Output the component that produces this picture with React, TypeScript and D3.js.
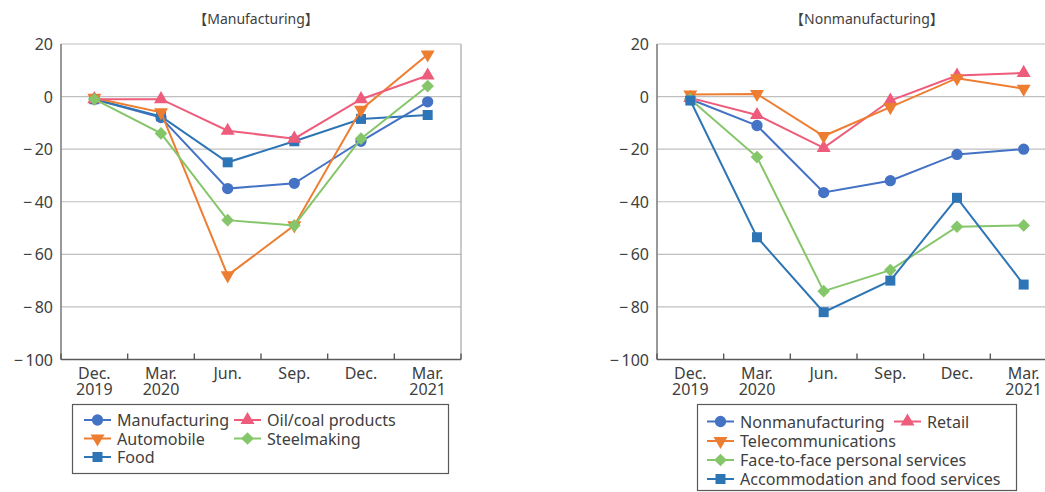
import React from "react";
import * as d3 from "d3";

// Quarter labels (two-line)
const quarterTop = ["Dec.", "Mar.", "Jun.", "Sep.", "Dec.", "Mar."];
const quarterBottom = ["2019", "2020", "", "", "", "2021"];
const yTicks = [20, 0, -20, -40, -60, -80, -100];

// Manufacturing panel series (DI, % points)
const manufacturing = [-1, -8, -35, -33, -17, -2];
const automobile = [-0.5, -6, -68, -49, -5, 16];
const oilCoal = [-1, -1, -13, -16, -1, 8];
const steelmaking = [-1, -14, -47, -49, -16, 4];
const food = [-1, -7.5, -25, -17, -8.5, -7];

// Nonmanufacturing panel series
const nonmanufacturing = [-1, -11, -36.5, -32, -22, -20];
const retail = [-0.5, -7, -19.5, -1.5, 8, 9];
const telecom = [0.8, 1, -15, -4, 7, 3];
const faceToFace = [-1, -23, -74, -66, -49.5, -49];
const accommodation = [-1.5, -53.5, -82, -70, -38.5, -71.5];

const BLUE = "#4472C4";
const DARKBLUE = "#2E75B6";
const ORANGE = "#ED7D31";
const PINK = "#EE5C7C";
const GREEN = "#86C66A";

type Shape = "circle" | "up" | "down" | "diamond" | "square";
type Series = { name: string; values: number[]; color: string; shape: Shape };

const leftSeries: Series[] = [
  { name: "Manufacturing", values: manufacturing, color: BLUE, shape: "circle" },
  { name: "Food", values: food, color: DARKBLUE, shape: "square" },
  { name: "Automobile", values: automobile, color: ORANGE, shape: "down" },
  { name: "Oil/coal products", values: oilCoal, color: PINK, shape: "up" },
  { name: "Steelmaking", values: steelmaking, color: GREEN, shape: "diamond" },
];

const rightSeries: Series[] = [
  { name: "Nonmanufacturing", values: nonmanufacturing, color: BLUE, shape: "circle" },
  { name: "Retail", values: retail, color: PINK, shape: "up" },
  { name: "Telecommunications", values: telecom, color: ORANGE, shape: "down" },
  { name: "Face-to-face personal services", values: faceToFace, color: GREEN, shape: "diamond" },
  { name: "Accommodation and food services", values: accommodation, color: DARKBLUE, shape: "square" },
];

const FONT = "'Noto Sans', 'Noto Sans CJK JP', sans-serif";
const TEXT = "#404040";

function symbolPath(shape: Shape): { d: string; rotate: number } {
  switch (shape) {
    case "circle":
      return { d: d3.symbol(d3.symbolCircle, 100)()!, rotate: 0 };
    case "square":
      return { d: d3.symbol(d3.symbolSquare, 100)()!, rotate: 0 };
    case "diamond":
      return { d: d3.symbol(d3.symbolSquare, 80)()!, rotate: 45 };
    case "up":
      return { d: d3.symbol(d3.symbolTriangle, 85)()!, rotate: 0 };
    case "down":
      return { d: d3.symbol(d3.symbolTriangle, 85)()!, rotate: 180 };
  }
}

function Marker({ x, y, s }: { x: number; y: number; s: Series }) {
  const { d, rotate } = symbolPath(s.shape);
  return <path d={d} transform={`translate(${x},${y}) rotate(${rotate})`} fill={s.color} />;
}

function fmt(v: number) {
  return v < 0 ? `\u2212\u2009${Math.abs(v)}` : `${v}`;
}

function Panel({
  left,
  width,
  series,
  title,
  titleX,
}: {
  left: number;
  width: number;
  series: Series[];
  title: string;
  titleX: number;
}) {
  const top = 44;
  const bottom = 359.5;
  const x = d3
    .scaleBand<number>()
    .domain(d3.range(quarterTop.length))
    .range([left, left + width]);
  const y = d3.scaleLinear().domain([-100, 20]).range([bottom, top]);
  const cx = (i: number) => x(i)! + x.bandwidth() / 2;
  const line = d3
    .line<number>()
    .x((_, i) => cx(i))
    .y((v) => y(v));

  return (
    <g>
      <text x={titleX} y={24} textAnchor="middle" fontSize={14} fill={TEXT} fontFamily={FONT}>
        {title}
      </text>
      {/* grid */}
      {yTicks.slice(0, -1).map((t) => (
        <line key={t} x1={left} x2={left + width} y1={y(t)} y2={y(t)} stroke="#BFBFBF" strokeWidth={1.2} />
      ))}
      <line x1={left + width} x2={left + width} y1={top} y2={bottom} stroke="#A6A6A6" strokeWidth={1.2} />
      {/* axes */}
      <line x1={left} x2={left} y1={top} y2={bottom} stroke="#7F7F7F" strokeWidth={1.6} />
      <line x1={left} x2={left + width} y1={bottom} y2={bottom} stroke="#595959" strokeWidth={1.6} />
      {d3.range(quarterTop.length + 1).map((i) => {
        const tx = left + i * x.bandwidth();
        return <line key={i} x1={tx} x2={tx} y1={bottom} y2={bottom - 6} stroke="#595959" strokeWidth={1.4} />;
      })}
      {yTicks.map((t) => (
        <text
          key={t}
          x={left - 8}
          y={y(t)}
          textAnchor="end"
          dominantBaseline="central"
          fontSize={16}
          fill={TEXT}
          fontFamily={FONT}
        >
          {fmt(t)}
        </text>
      ))}
      {quarterTop.map((q, i) => (
        <text key={i} x={cx(i)} y={379} textAnchor="middle" fontSize={16} fill={TEXT} fontFamily={FONT}>
          <tspan x={cx(i)}>{q}</tspan>
          {quarterBottom[i] && (
            <tspan x={cx(i)} dy={16}>
              {quarterBottom[i]}
            </tspan>
          )}
        </text>
      ))}
      {/* series */}
      {series.map((s) => (
        <g key={s.name}>
          <path d={line(s.values)!} fill="none" stroke={s.color} strokeWidth={2} />
          {s.values.map((v, i) => (
            <Marker key={i} x={cx(i)} y={y(v)} s={s} />
          ))}
        </g>
      ))}
    </g>
  );
}

function LegendItem({ x, y, s }: { x: number; y: number; s: Series }) {
  return (
    <g>
      <line x1={x} x2={x + 27} y1={y} y2={y} stroke={s.color} strokeWidth={2} />
      <Marker x={x + 13.5} y={y} s={s} />
      <text x={x + 33} y={y} dominantBaseline="central" fontSize={16.1} fill={TEXT} fontFamily={FONT}>
        {s.name}
      </text>
    </g>
  );
}

export default function App() {
  const [lm, lfood, lauto, loil, lsteel] = leftSeries;
  const [rn, rretail, rtel, rface, racc] = rightSeries;
  return (
    <svg
      width={1045}
      height={492}
      style={{ position: "absolute", left: 0, top: 0, background: "#fff" }}
    >
      <rect width={1045} height={492} fill="#fff" />
      <Panel left={61} width={400} series={leftSeries} title="【Manufacturing】" titleX={256} />
      <Panel left={657} width={400} series={rightSeries} title="【Nonmanufacturing】" titleX={867} />

      {/* left legend */}
      <rect x={72.5} y={404.5} width={376} height={69} fill="#fff" stroke="#595959" strokeWidth={1.2} />
      <LegendItem x={84} y={420} s={lm} />
      <LegendItem x={234} y={420} s={loil} />
      <LegendItem x={84} y={438.5} s={lauto} />
      <LegendItem x={234} y={438.5} s={lsteel} />
      <LegendItem x={84} y={457} s={lfood} />

      {/* right legend */}
      <rect x={697.5} y={404.5} width={319} height={86} fill="#fff" stroke="#595959" strokeWidth={1.2} />
      <LegendItem x={707} y={421.5} s={rn} />
      <LegendItem x={894} y={421.5} s={rretail} />
      <LegendItem x={707} y={441} s={rtel} />
      <LegendItem x={707} y={460} s={rface} />
      <LegendItem x={707} y={479} s={racc} />
    </svg>
  );
}
